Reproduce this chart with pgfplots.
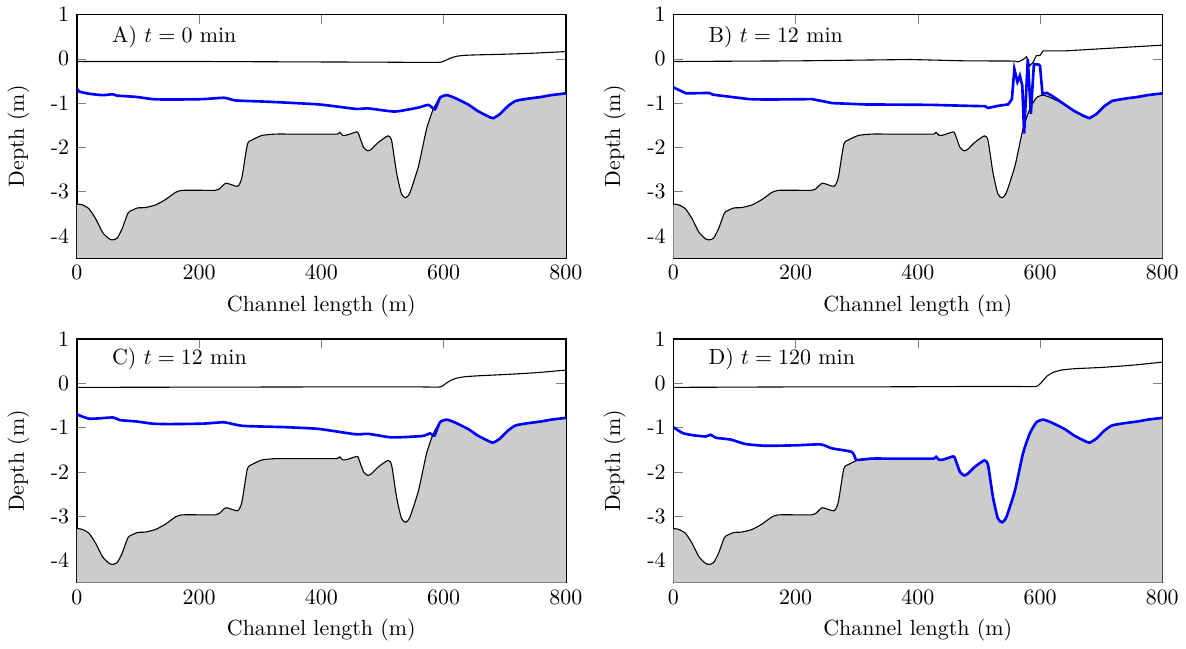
\documentclass[border=0pt]{standalone}
\usepackage{pgfplots}
\pgfplotsset{compat=1.18}
\usepackage{pgfplotstable}
\usepgfplotslibrary{fillbetween}

% bed profile (same in all panels)
\pgfplotstableread{
x y
0 -3.28
9 -3.30
20 -3.39
31 -3.62
42 -3.92
53 -4.07
59 -4.09
66 -4.05
74 -3.84
83 -3.50
86 -3.45
99 -3.37
112 -3.36
129 -3.30
145 -3.18
161 -3.02
169 -2.98
175 -2.97
200 -2.97
227 -2.97
233 -2.94
244 -2.81
263 -2.88
270 -2.68
279 -1.93
287 -1.83
303 -1.73
325 -1.70
350 -1.70
375 -1.70
400 -1.70
426 -1.70
430 -1.66
435 -1.73
442 -1.72
458 -1.65
461 -1.70
469 -2.00
476 -2.08
482 -2.04
493 -1.89
509 -1.74
515 -1.85
523 -2.57
531 -3.05
538 -3.14
545 -3.02
559 -2.42
572 -1.59
583 -1.14
594 -0.88
605 -0.82
618 -0.88
640 -1.03
656 -1.18
673 -1.30
681 -1.34
692 -1.25
705 -1.07
718 -0.95
738 -0.90
760 -0.86
776 -0.82
800 -0.78
}\bed

\pgfplotstableread{
x y
0 -0.06
100 -0.06
200 -0.06
300 -0.065
400 -0.07
500 -0.075
560 -0.08
590 -0.08
597 -0.07
604 -0.03
612 0.02
622 0.06
635 0.08
655 0.09
700 0.105
750 0.13
800 0.165
}\waterA

\pgfplotstableread{
x y
0 -0.67
4 -0.74
21 -0.79
42 -0.82
59 -0.80
65 -0.83
97 -0.86
124 -0.91
151 -0.92
206 -0.91
241 -0.88
260 -0.94
314 -0.97
396 -1.03
456 -1.13
477 -1.12
520 -1.19
559 -1.10
575 -1.04
586 -1.14
594 -0.88
605 -0.82
618 -0.88
640 -1.03
656 -1.18
673 -1.30
681 -1.34
692 -1.25
705 -1.07
718 -0.95
738 -0.90
760 -0.86
776 -0.82
800 -0.78
}\blueA

\pgfplotstableread{
x y
0 -0.06
206 -0.045
388 -0.015
477 -0.045
559 -0.05
564 -0.07
573 -0.01
578 0.05
583 -0.16
589 -0.07
594 0.07
600 0.08
605 0.18
641 0.18
800 0.31
}\waterB

\pgfplotstableread{
x y
0 -0.645
21 -0.78
59 -0.77
65 -0.81
124 -0.91
151 -0.92
227 -0.91
260 -1.00
314 -1.03
423 -1.04
477 -1.06
510 -1.07
515 -1.11
532 -1.06
548 -1.03
554 -0.91
558 -0.23
563 -0.52
567 -0.38
571 -0.61
574 -1.69
580 -0.01
585 -1.24
590 -0.12
598 -0.13
600 -0.16
604 -0.79
611 -0.77
619 -0.83
640 -1.03
656 -1.18
673 -1.30
681 -1.34
692 -1.25
705 -1.07
718 -0.95
738 -0.90
760 -0.86
776 -0.82
800 -0.78
}\blueB

\pgfplotstableread{
x y
0 -0.09
100 -0.088
200 -0.085
300 -0.083
400 -0.08
500 -0.08
560 -0.08
590 -0.085
597 -0.07
604 0.0
612 0.07
622 0.12
635 0.15
655 0.17
700 0.20
750 0.24
800 0.30
}\waterC

\pgfplotstableread{
x y
0 -0.70
21 -0.80
59 -0.77
70 -0.83
97 -0.86
124 -0.91
151 -0.92
206 -0.91
241 -0.88
271 -0.96
342 -0.99
396 -1.03
456 -1.15
477 -1.14
515 -1.22
565 -1.19
578 -1.13
585 -1.18
594 -0.88
605 -0.82
618 -0.88
640 -1.03
656 -1.18
673 -1.30
681 -1.34
692 -1.25
705 -1.07
718 -0.95
738 -0.90
760 -0.86
776 -0.82
800 -0.78
}\blueC

\pgfplotstableread{
x y
0 -0.09
100 -0.085
200 -0.08
300 -0.08
400 -0.075
500 -0.07
560 -0.07
590 -0.075
597 -0.05
604 0.05
612 0.17
622 0.25
635 0.30
655 0.33
700 0.36
750 0.41
800 0.48
}\waterD

\pgfplotstableread{
x y
0 -0.99
15 -1.12
31 -1.17
53 -1.20
61 -1.16
70 -1.23
94 -1.27
118 -1.37
151 -1.41
200 -1.40
241 -1.38
260 -1.47
292 -1.55
299 -1.73
303 -1.73
325 -1.70
350 -1.70
375 -1.70
400 -1.70
426 -1.70
430 -1.66
435 -1.73
442 -1.72
458 -1.65
461 -1.70
469 -2.00
476 -2.08
482 -2.04
493 -1.89
509 -1.74
515 -1.85
523 -2.57
531 -3.05
538 -3.14
545 -3.02
559 -2.42
572 -1.59
583 -1.14
594 -0.88
605 -0.82
618 -0.88
640 -1.03
656 -1.18
673 -1.30
681 -1.34
692 -1.25
705 -1.07
718 -0.95
738 -0.90
760 -0.86
776 -0.82
800 -0.78
}\blueD

\pgfplotsset{
  panel/.style={
    scale only axis,
    width=223pt, height=111pt,
    xmin=0, xmax=800, ymin=-4.5, ymax=1,
    xtick={0,200,400,600,800},
    ytick={-4,-3,-2,-1,0,1},
    yticklabels={-4,-3,-2,-1,0,1},
    xlabel={Channel length (m)},
    ylabel={Depth (m)},
    ylabel shift=3pt,
    axis line style={line width=0.6pt},
  },
  bedline/.style={black, line width=0.5pt, smooth, tension=0.35},
  surf/.style={black, line width=0.5pt, smooth, tension=0.35},
  blueline/.style={blue, line width=1.2pt, smooth, tension=0.35},
}

\newcommand{\bedplot}{%
  \addplot[name path=bed, draw=none, smooth, tension=0.35] table {\bed};
  \addplot[name path=bot, draw=none] coordinates {(0,-4.5) (800,-4.5)};
  \addplot[fill=gray!40, draw=none] fill between[of=bed and bot];
  \addplot[bedline] table {\bed};
}

\begin{document}
\begin{tikzpicture}
\begin{axis}[panel, at={(0,0)}]
  \bedplot
  \addplot[surf] table {\waterA};
  \addplot[blueline] table {\blueA};
  \node[anchor=west] at (axis cs:45,0.5) {A) $t = 0$ min};
\end{axis}
\begin{axis}[panel, at={(272pt,0)}]
  \bedplot
  \addplot[black, line width=0.5pt] table {\waterB};
  \addplot[blue, line width=1.2pt] table {\blueB};
  \node[anchor=west] at (axis cs:45,0.5) {B) $t = 12$ min};
\end{axis}
\begin{axis}[panel, at={(0,-148pt)}]
  \bedplot
  \addplot[surf] table {\waterC};
  \addplot[blueline] table {\blueC};
  \node[anchor=west] at (axis cs:45,0.55) {C) $t = 12$ min};
\end{axis}
\begin{axis}[panel, at={(272pt,-148pt)}]
  \bedplot
  \addplot[surf] table {\waterD};
  \addplot[blueline] table {\blueD};
  \node[anchor=west] at (axis cs:45,0.55) {D) $t = 120$ min};
\end{axis}
\end{tikzpicture}
\end{document}
